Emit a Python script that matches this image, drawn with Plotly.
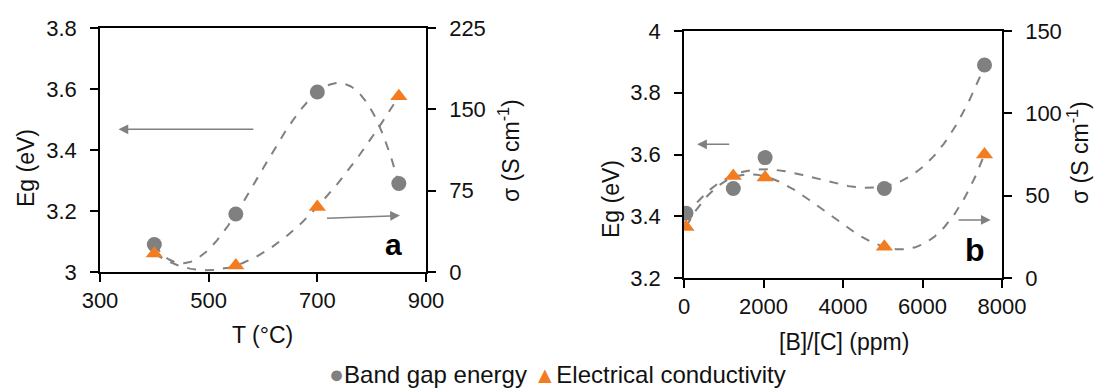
import numpy as np
import plotly.graph_objects as go

# ---- data ----
T_C = [400, 550, 700, 850]
eg_T = [3.09, 3.19, 3.59, 3.29]
sigma_T = [17, 6, 60, 162]

BC_ppm = [50, 1240, 2040, 5040, 7560]
eg_BC = [3.41, 3.49, 3.59, 3.49, 3.89]
sigma_BC = [31, 62, 61, 19, 75]

x1_ticks = [300, 500, 700, 900]
x2_ticks = [0, 2000, 4000, 6000, 8000]

GRAY = "#808080"
ORANGE = "#F47C20"
FONT = "Liberation Sans, Arial, sans-serif"
W, H = 1094, 392


def trend(x, y, n=200):
    c = np.polyfit(x, y, 3)
    xs = np.linspace(min(x), max(x), n)
    return xs, np.polyval(c, xs)


fig = go.Figure()
dash = dict(color=GRAY, dash="dash", width=2)
circ = dict(symbol="circle", size=15, color=GRAY)
tri = dict(symbol="triangle-up", size=15, color=ORANGE)

# panel a
xs, ys = trend(T_C, eg_T)
fig.add_trace(go.Scatter(x=xs, y=ys, mode="lines", line=dash,
                         xaxis="x", yaxis="y", showlegend=False, hoverinfo="skip"))
xs, ys = trend(T_C, sigma_T)
fig.add_trace(go.Scatter(x=xs, y=ys, mode="lines", line=dash,
                         xaxis="x", yaxis="y2", showlegend=False, hoverinfo="skip"))
fig.add_trace(go.Scatter(x=T_C, y=eg_T, mode="markers", name="Band gap energy", marker=circ,
                         xaxis="x", yaxis="y", showlegend=False))
fig.add_trace(go.Scatter(x=T_C, y=sigma_T, mode="markers", name="Electrical conductivity", marker=tri,
                         xaxis="x", yaxis="y2", showlegend=False))

# panel b
xs, ys = trend(BC_ppm, eg_BC)
fig.add_trace(go.Scatter(x=xs, y=ys, mode="lines", line=dash,
                         xaxis="x2", yaxis="y3", showlegend=False, hoverinfo="skip"))
xs, ys = trend(BC_ppm, sigma_BC)
fig.add_trace(go.Scatter(x=xs, y=ys, mode="lines", line=dash,
                         xaxis="x2", yaxis="y4", showlegend=False, hoverinfo="skip"))
fig.add_trace(go.Scatter(x=BC_ppm, y=eg_BC, mode="markers", name="Band gap energy", marker=circ,
                         xaxis="x2", yaxis="y3", showlegend=False))
fig.add_trace(go.Scatter(x=BC_ppm, y=sigma_BC, mode="markers", name="Electrical conductivity", marker=tri,
                         xaxis="x2", yaxis="y4", showlegend=False))

tickfont = dict(family=FONT, size=22, color="#111")
common = dict(showline=True, linecolor="black", linewidth=1.5, ticks="outside", ticklen=8,
              tickwidth=1.5, tickcolor="black", showgrid=False, zeroline=False,
              tickfont=tickfont, automargin=False)
ycommon = dict(common, ticklabelstandoff=9)
xcommon = dict(common, ticklabelstandoff=0)


def px_x(p):
    return p / W


def px_y(p):
    return 1 - p / H


xa_dom = [px_x(100), px_x(426)]
ya_dom = [px_y(272), px_y(28)]
xb_dom = [px_x(684), px_x(1002)]
yb_dom = [px_y(278), px_y(31)]

fig.update_layout(
    width=W, height=H, margin=dict(l=0, r=0, t=0, b=0),
    paper_bgcolor="white", plot_bgcolor="white",
    font=dict(family=FONT, size=22, color="#111"),
    xaxis=dict(domain=xa_dom, range=[300, 900], tickvals=x1_ticks, anchor="y", mirror=True, **xcommon),
    yaxis=dict(domain=ya_dom, range=[3, 3.8], dtick=0.2, anchor="x", tickformat="~g", **ycommon),
    yaxis2=dict(range=[0, 225], dtick=75, overlaying="y", side="right", anchor="x", **ycommon),
    xaxis2=dict(domain=xb_dom, range=[0, 8000], tickvals=x2_ticks, anchor="y3", mirror=True, **xcommon),
    yaxis3=dict(domain=yb_dom, range=[3.2, 4.0], dtick=0.2, anchor="x2", tickformat="~g", **ycommon),
    yaxis4=dict(range=[0, 150], dtick=50, overlaying="y3", side="right", anchor="x2", **ycommon),
)

ann = []
tf = dict(family=FONT, size=23, color="#111")
ctr = dict(xref="paper", yref="paper", showarrow=False, font=tf, xanchor="center", yanchor="middle")
ann.append(dict(text="Eg (eV)", x=px_x(26), y=px_y(168), textangle=-90, **ctr))
ann.append(dict(text="σ (S cm<sup>-1</sup>)", x=px_x(509), y=px_y(151), textangle=-90, **ctr))
ann.append(dict(text="T (°C)", x=px_x(262), y=px_y(335), **ctr))
ann.append(dict(text="Eg (eV)", x=px_x(611), y=px_y(199), textangle=-90, **ctr))
ann.append(dict(text="σ (S cm<sup>-1</sup>)", x=px_x(1078), y=px_y(153), textangle=-90, **ctr))
ann.append(dict(text="[B]/[C] (ppm)", x=px_x(844), y=px_y(342), **ctr))
ann.append(dict(text="<b>a</b>", x=841, y=3.09, xref="x", yref="y", showarrow=False,
                xanchor="center", yanchor="middle", font=dict(family=FONT, size=30, color="black")))
ann.append(dict(text="<b>b</b>", x=7320, y=3.29, xref="x2", yref="y3", showarrow=False,
                xanchor="center", yanchor="middle", font=dict(family=FONT, size=32, color="black")))
arr = dict(showarrow=True, arrowhead=2, arrowsize=1.3, arrowwidth=1.5, arrowcolor=GRAY, text="")
ann.append(dict(x=334, y=3.468, ax=585, ay=3.468, xref="x", yref="y", axref="x", ayref="y", **arr))
ann.append(dict(x=852, y=3.185, ax=715, ay=3.176, xref="x", yref="y", axref="x", ayref="y", **arr))
ann.append(dict(x=330, y=3.633, ax=1175, ay=3.633, xref="x2", yref="y3", axref="x2", ayref="y3", **arr))
ann.append(dict(x=7715, y=3.388, ax=6870, ay=3.388, xref="x2", yref="y3", axref="x2", ayref="y3", **arr))
ann.append(dict(
    text=("<span style='color:%s;font-size:25px'>●</span>Band gap energy "
          "<span style='color:%s;font-size:23px'>▲</span>Electrical conductivity") % (GRAY, ORANGE),
    x=px_x(557), y=px_y(374), xref="paper", yref="paper", showarrow=False,
    xanchor="center", yanchor="middle", font=dict(family=FONT, size=24, color="#111")))

fig.update_layout(annotations=ann)
fig.write_html("out.html", post_script="document.body.style.margin='0';",
               config={"displayModeBar": False})
